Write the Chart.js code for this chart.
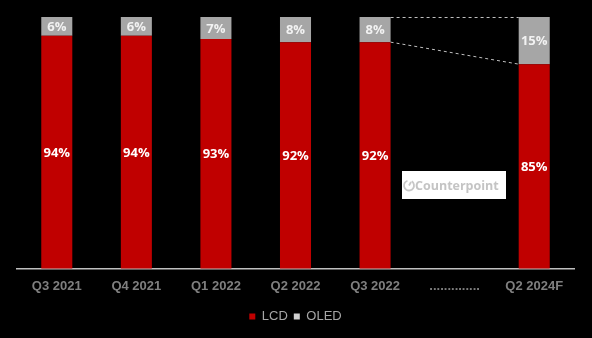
<!DOCTYPE html>
<html>
<head>
<meta charset="utf-8">
<script src="https://cdn.jsdelivr.net/npm/chart.js@4.4.1/dist/chart.umd.min.js"></script>
<style>
html,body{margin:0;padding:0;background:#000;}
#wrap{position:relative;width:592px;height:338px;background:#000;}
canvas{display:block;}
</style>
</head>
<body>
<div id="wrap"><canvas id="c" width="592" height="338"></canvas></div>
<script>
const categories = ['Q3 2021','Q4 2021','Q1 2022','Q2 2022','Q3 2022','..............','Q2 2024F'];
const lcdShare = [94, 94, 93, 92, 92, null, 85];
const oledShare = [6, 6, 7, 8, 8, null, 15];
const seriesNames = ['LCD', 'OLED'];

const labelPlugin = {
  id: 'barLabels',
  afterDatasetsDraw(chart) {
    const ctx = chart.ctx;
    const area = chart.chartArea;
    ctx.save();
    ctx.font = 'bold 13px "Open Sans", "DejaVu Sans", sans-serif';
    ctx.textAlign = 'center';
    ctx.textBaseline = 'middle';
    chart.data.datasets.forEach((ds, di) => {
      const meta = chart.getDatasetMeta(di);
      meta.data.forEach((el, i) => {
        const v = ds.data[i];
        if (v === null || v === undefined) return;
        const p = el.getProps(['x', 'y', 'base'], true);
        const top = Math.max(Math.min(p.y, p.base), area.top);
        const bot = Math.min(Math.max(p.y, p.base), area.bottom);
        ctx.fillStyle = di === 0 ? '#ffffff' : '#f2f2f2';
        ctx.fillText(v + '%', p.x, (top + bot) / 2 + 1);
      });
    });
    // dashed connector lines
    const lcdMeta = chart.getDatasetMeta(0);
    const oledMeta = chart.getDatasetMeta(1);
    const a = lcdMeta.data[4].getProps(['x', 'y', 'width'], true);
    const b = lcdMeta.data[6].getProps(['x', 'y', 'width'], true);
    const at = oledMeta.data[4].getProps(['x', 'y', 'width'], true);
    const bt = oledMeta.data[6].getProps(['x', 'y', 'width'], true);
    ctx.strokeStyle = '#bfbfbf';
    ctx.lineWidth = 1;
    ctx.setLineDash([3, 3]);
    ctx.beginPath();
    ctx.moveTo(at.x + at.width / 2, at.y + 0.5);
    ctx.lineTo(bt.x - bt.width / 2, bt.y + 0.5);
    ctx.moveTo(a.x + a.width / 2, a.y);
    ctx.lineTo(b.x - b.width / 2, b.y);
    ctx.stroke();
    ctx.setLineDash([]);
    // Counterpoint watermark box
    const bx = 402, by = 171, bw = 104, bh = 28;
    ctx.fillStyle = '#ffffff';
    ctx.fillRect(bx, by, bw, bh);
    ctx.strokeStyle = '#c8c8c8';
    ctx.lineWidth = 1.8;
    ctx.beginPath();
    ctx.arc(bx + 7, by + 14.5, 5, -1.0, 4.4);
    ctx.stroke();
    ctx.beginPath();
    ctx.moveTo(bx + 7, by + 14.5);
    ctx.lineTo(bx + 9, by + 11);
    ctx.stroke();
    ctx.fillStyle = '#c4c4c4';
    ctx.font = 'bold 12.5px "Open Sans", "DejaVu Sans", sans-serif';
    ctx.textAlign = 'left';
    ctx.fillText('Counterpoint', bx + 13, by + 15);
    ctx.restore();
  }
};

new Chart(document.getElementById('c'), {
  type: 'bar',
  data: {
    labels: categories,
    datasets: [
      { label: seriesNames[0], data: lcdShare, backgroundColor: '#c00000', borderWidth: 0 },
      { label: seriesNames[1], data: oledShare, backgroundColor: '#a6a6a6', borderWidth: 0 }
    ]
  },
  options: {
    responsive: false,
    animation: false,
    maintainAspectRatio: false,
    layout: { padding: { left: 17, right: 18, top: 17, bottom: 5 } },
    datasets: { bar: { categoryPercentage: 1.0, barPercentage: 0.39 } },
    scales: {
      x: {
        stacked: true,
        grid: { display: false, drawTicks: false },
        border: { display: true, color: '#bfbfbf', width: 1.5 },
        ticks: {
          color: '#7f7f7f',
          padding: 10,
          font: { family: '"Liberation Sans", Arial, sans-serif', size: 13, weight: 'bold' },
          maxRotation: 0, autoSkip: false
        }
      },
      y: { stacked: true, display: false, min: 20, max: 100 }
    },
    plugins: {
      legend: {
        position: 'bottom',
        labels: {
          color: '#a6a6a6',
          boxWidth: 6, boxHeight: 6, padding: 6,
          font: { family: '"Liberation Sans", Arial, sans-serif', size: 13 },
          generateLabels(chart) {
            const items = Chart.defaults.plugins.legend.labels.generateLabels(chart);
            if (items[1]) { items[1].fillStyle = '#d0d0d0'; }
            return items;
          }
        }
      },
      tooltip: { enabled: false }
    }
  },
  plugins: [labelPlugin]
});
</script>
</body>
</html>
